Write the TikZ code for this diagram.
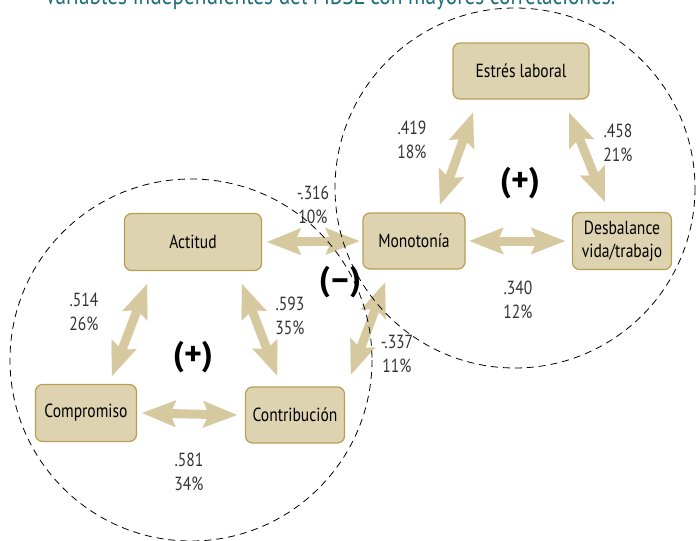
\documentclass[tikz,border=0pt]{standalone}
\usepackage{fontspec}
\setmainfont{PT Sans}[FakeStretch=0.82]
\newfontfamily\signfont{PT Sans}
\usetikzlibrary{arrows.meta}
\definecolor{boxfill}{HTML}{DDD3B0}
\definecolor{boxline}{HTML}{B89E55}
\definecolor{arrowtan}{HTML}{D6C99F}
\definecolor{numgray}{HTML}{333333}
\definecolor{titleteal}{HTML}{1D6E7A}
\tikzset{fathead/.tip={Stealth[length=34pt,width=27pt,inset=6pt,line width=0.1pt]}}

\begin{document}
\begin{tikzpicture}[x=1pt, y=-1pt,
    var/.style={draw=boxline, fill=boxfill, line width=1.2pt, rounded corners=7pt,
      inner sep=0pt, align=center, font=\fontsize{19}{23}\selectfont},
    corr/.style={text=numgray, align=center, font=\fontsize{19}{24}\selectfont},
    sign/.style={font=\signfont\bfseries\fontsize{34}{34}\selectfont},
    fat/.style={arrowtan, line width=9pt, fathead-fathead},
    zone/.style={dash pattern=on 7pt off 5pt, line width=0.8pt}]
        \useasboundingbox (0,0) rectangle (697,541);
        \node [text=titleteal, font=\fontsize{26}{26}\selectfont, anchor=base] (title) at (330,4)
            {Variables independientes del MBSL con mayores correlaciones.};
        % variables
        \node [var, minimum width=136pt, minimum height=56pt] (estres) at (521,71) {Estrés laboral};
        \node [var, minimum width=102pt, minimum height=56pt] (mono) at (414,241) {Monotonía};
        \node [var, minimum width=99pt, minimum height=57pt] (desb) at (622,241) {Desbalance\\vida/trabajo};
        \node [var, minimum width=137pt, minimum height=57pt] (actitud) at (193,242) {Actitud};
        \node [var, minimum width=101pt, minimum height=57pt] (compromiso) at (86,413) {Compromiso};
        \node [var, minimum width=99pt, minimum height=56pt] (contrib) at (295,415) {Contribución};
        % correlaciones
        \draw [fat] ([xshift=5pt]actitud.east) -- ([xshift=-3pt]mono.west);
        \draw [fat] ([xshift=4pt]mono.east) -- ([xshift=-7pt]desb.west);
        \draw [fat] ([xshift=5pt]compromiso.east) -- ([xshift=-8pt]contrib.west);
        \draw [fat] ([shift={(-46,13)}]actitud.south) -- ([shift={(26,-8)}]compromiso.north);
        \draw [fat] ([shift={(49,13)}]actitud.south) -- ([shift={(-18,-11)}]contrib.north);
        \draw [fat] ([shift={(-29,13)}]mono.south) -- ([shift={(56,-12)}]contrib.north);
        \draw [fat] ([shift={(26,-8)}]mono.north) -- ([shift={(-48,13)}]estres.south);
        \draw [fat] ([shift={(48,13)}]estres.south) -- ([shift={(-17,-10)}]desb.north);
        \node [corr] (r-am) at (313,205) {-.316\\10\%};
        \node [corr] (r-me) at (412,140) {.419\\18\%};
        \node [corr] (r-ed) at (618,143) {.458\\21\%};
        \node [corr] (r-md) at (518,300) {.340\\12\%};
        \node [corr] (r-ac) at (84,312) {.514\\26\%};
        \node [corr] (r-at) at (290,316) {.593\\35\%};
        \node [corr] (r-cc) at (189,472) {.581\\34\%};
        \node [corr] (r-mc) at (397,354) {-.337\\11\%};
        \node [sign] (pos-top) at (520,183) {(+)};
        \node [sign] (neg) at (340,282) {(–)};
        \node [sign] (pos-bot) at (193,357) {(+)};
        % grupos
        \draw [zone] (191,360) circle [radius=181];
        \draw [zone] (515,188) circle [radius=180];
    \end{tikzpicture}
\end{document}
